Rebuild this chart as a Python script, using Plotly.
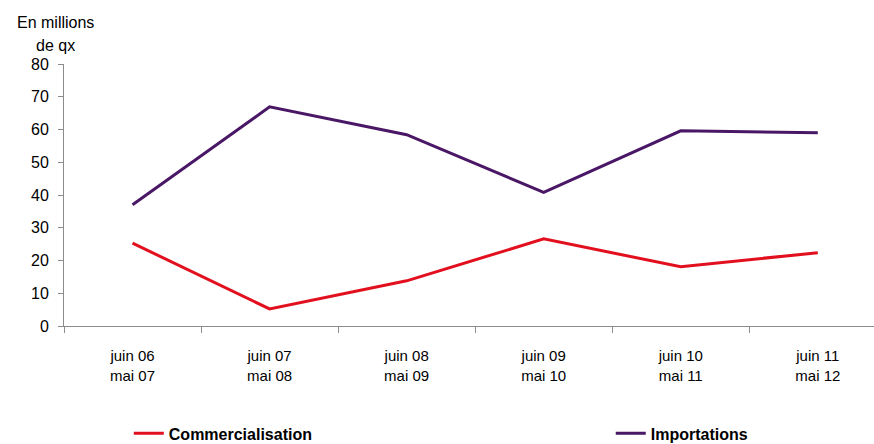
import plotly.graph_objects as go

categories = ["juin 06<br>mai 07", "juin 07<br>mai 08", "juin 08<br>mai 09",
              "juin 09<br>mai 10", "juin 10<br>mai 11", "juin 11<br>mai 12"]
commercialisation = [25.3, 5.2, 13.8, 26.6, 18.1, 22.4]
importations = [37.0, 66.9, 58.4, 40.8, 59.6, 59.0]
y_ticks = [0, 10, 20, 30, 40, 50, 60, 70, 80]

RED = "#E2101E"
PURPLE = "#4A1766"
AXIS = "#8C8C8C"
FONT = "Liberation Sans, Arial, sans-serif"

fig = go.Figure()
fig.add_trace(go.Scatter(x=categories, y=commercialisation, mode="lines",
                         name="Commercialisation", line=dict(color=RED, width=3),
                         legend="legend"))
fig.add_trace(go.Scatter(x=categories, y=importations, mode="lines",
                         name="Importations", line=dict(color=PURPLE, width=3),
                         legend="legend2"))

legend_common = dict(orientation="h", yanchor="middle", y=-0.41,
                     font=dict(family=FONT, size=16, color="black", weight="bold"),
                     bgcolor="rgba(0,0,0,0)")
fig.update_layout(
    width=874, height=444,
    margin=dict(l=64, r=0, t=64, b=118, autoexpand=False),
    paper_bgcolor="white", plot_bgcolor="white",
    font=dict(family=FONT, size=14, color="black"),
    showlegend=True,
    legend=dict(x=0.08, xanchor="left", **legend_common),
    legend2=dict(x=0.675, xanchor="left", **legend_common),
    xaxis=dict(type="category", range=[-0.5, 5.41], showline=True, linecolor=AXIS,
               linewidth=1, ticks="outside", tickson="boundaries", ticklen=6,
               tickcolor=AXIS, showgrid=False, zeroline=False, ticklabelstandoff=16,
               tickfont=dict(family=FONT, size=15, color="black")),
    yaxis=dict(range=[0, 80], tickvals=y_ticks, showline=True, linecolor=AXIS,
               linewidth=1, ticks="outside", ticklen=5, tickcolor=AXIS,
               showgrid=False, zeroline=False, ticklabelstandoff=6,
               tickfont=dict(family=FONT, size=16, color="black")),
    annotations=[
        dict(text="En millions", xref="paper", yref="paper",
             x=-0.0099, y=1.16, xanchor="center", yanchor="middle",
             showarrow=False, font=dict(family=FONT, size=16, color="black")),
        dict(text="de qx", xref="paper", yref="paper",
             x=-0.0099, y=1.069, xanchor="center", yanchor="middle",
             showarrow=False, font=dict(family=FONT, size=16, color="black")),
    ],
)

fig.write_html("out.html")
